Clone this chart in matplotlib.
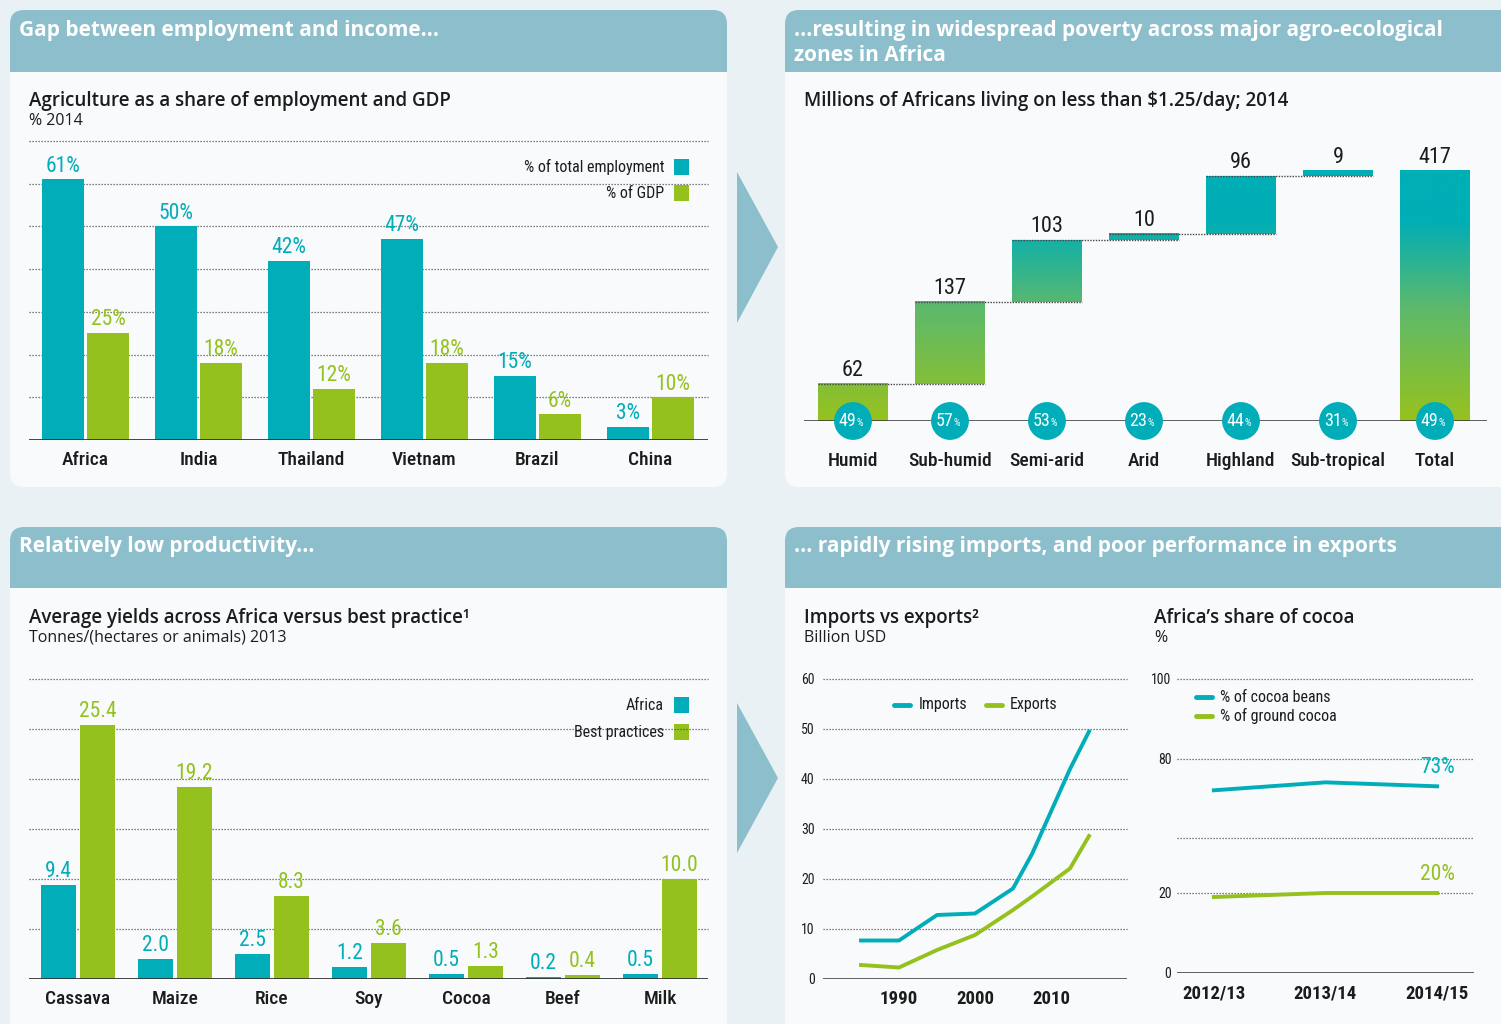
import numpy as np
import matplotlib.pyplot as plt
from matplotlib.patches import FancyBboxPatch, Rectangle, Polygon, Ellipse
from matplotlib.colors import LinearSegmentedColormap

W, H = 1501, 1024
TEAL = "#00adb9"
GREEN = "#95c11f"
HEAD = "#8cbfcb"
BG = "#eaf1f4"
PANEL = "#f8fafc"
INK = "#1c1c1c"
SANS = ["Open Sans", "DejaVu Sans"]
NARROW = ["Roboto Condensed", "Archivo Narrow", "DejaVu Sans"]

# agriculture share of employment / GDP, % 2014
countries = ["Africa", "India", "Thailand", "Vietnam", "Brazil", "China"]
employment = [61, 50, 42, 47, 15, 3]
gdp = [25, 18, 12, 18, 6, 10]

# poverty by agro-ecological zone, millions, 2014
zones = ["Humid", "Sub-humid", "Semi-arid", "Arid", "Highland", "Sub-tropical", "Total"]
poor = [62, 137, 103, 10, 96, 9, 417]
poor_rate = [49, 57, 53, 23, 44, 31, 49]

# yields, tonnes/(hectares or animals) 2013
crops = ["Cassava", "Maize", "Rice", "Soy", "Cocoa", "Beef", "Milk"]
yield_africa = [9.4, 2.0, 2.5, 1.2, 0.5, 0.2, 0.5]
yield_best = [25.4, 19.2, 8.3, 3.6, 1.3, 0.4, 10.0]

# imports vs exports, billion USD
trade_years = [1985, 1990, 1995, 2000, 2005, 2007.5, 2012.5, 2015]
imports = [7.7, 7.7, 12.8, 13.1, 18.1, 25.0, 42.0, 49.5]
exports = [2.8, 2.3, 5.8, 8.8, 13.8, 16.5, 22.1, 28.6]

# Africa's share of cocoa, %
seasons = ["2012/13", "2013/14", "2014/15"]
cocoa_beans = [72, 74, 73]
ground_cocoa = [19, 20, 20]

fig = plt.figure(figsize=(W / 100, H / 100), dpi=100, facecolor=BG)
bg = fig.add_axes([0, 0, 1, 1])
bg.set_xlim(0, W)
bg.set_ylim(H, 0)
bg.axis("off")


def px_axes(x0, y0, x1, y1):
    ax = fig.add_axes([x0 / W, 1 - y1 / H, (x1 - x0) / W, (y1 - y0) / H])
    ax.set_facecolor("none")
    for s in ax.spines.values():
        s.set_visible(False)
    return ax


def panel(x0, y0, x1, y1, hy):
    bg.add_patch(FancyBboxPatch((x0, y0), x1 - x0, y1 - y0,
                                boxstyle="round,pad=0,rounding_size=14", fc=PANEL, ec="none"))
    bg.add_patch(FancyBboxPatch((x0, y0), x1 - x0, hy - y0,
                                boxstyle="round,pad=0,rounding_size=14", fc=HEAD, ec="none"))
    bg.add_patch(Rectangle((x0, y0 + 20), x1 - x0, hy - y0 - 20, fc=HEAD, ec="none"))


def grid(ax, levels):
    for lv in levels:
        ax.axhline(lv, color="#555555", lw=0.9, ls=(0, (1, 1.4)), zorder=1, clip_on=False)


def narrow_ticks(ax, axis="x", weight="medium"):
    labels = ax.get_xticklabels() if axis == "x" else ax.get_yticklabels()
    for t in labels:
        t.set_family(NARROW)
        t.set_fontweight(weight)


panel(10, 10, 727, 487, 72)
panel(785, 10, 1530, 487, 72)
panel(10, 527, 727, 1060, 588)
panel(785, 527, 1530, 1060, 588)
bg.add_patch(Polygon([(737, 172), (778, 247), (737, 323)], fc=HEAD, ec="none"))
bg.add_patch(Polygon([(737, 703), (778, 778), (737, 853)], fc=HEAD, ec="none"))

hdr = dict(color="white", fontsize=15, fontweight="bold", family=SANS, va="baseline")
bg.text(19, 36, "Gap between employment and income...", **hdr)
bg.text(794, 36, "...resulting in widespread poverty across major agro-ecological", **hdr)
bg.text(794, 61, "zones in Africa", **hdr)
bg.text(19, 552, "Relatively low productivity...", **hdr)
bg.text(794, 552, "... rapidly rising imports, and poor performance in exports", **hdr)

ttl = dict(color=INK, fontsize=13.5, fontweight="semibold", family=SANS, va="baseline")
sub = dict(color=INK, fontsize=11.5, family=SANS, va="baseline")
bg.text(29, 106, "Agriculture as a share of employment and GDP", **ttl)
bg.text(29, 125, "% 2014", **sub)
bg.text(804, 106, "Millions of Africans living on less than $1.25/day; 2014", **ttl)
bg.text(29, 623, "Average yields across Africa versus best practice\u00b9", **ttl)
bg.text(29, 642, "Tonnes/(hectares or animals) 2013", **sub)
bg.text(804, 623, "Imports vs exports\u00b2", **ttl)
bg.text(804, 642, "Billion USD", **sub)
bg.text(1154, 623, "Africa\u2019s share of cocoa", **ttl)
bg.text(1154, 642, "%", **sub)

# legends
leg = dict(color=INK, fontsize=11.5, family=NARROW, va="center", ha="right")
bg.text(664, 167, "% of total employment", **leg)
bg.add_patch(Rectangle((674, 159), 15, 16, fc=TEAL, ec="none"))
bg.text(664, 193, "% of GDP", **leg)
bg.add_patch(Rectangle((674, 185), 15, 16, fc=GREEN, ec="none"))
bg.text(664, 705, "Africa", **leg)
bg.add_patch(Rectangle((674, 697), 15, 16, fc=TEAL, ec="none"))
bg.text(664, 732, "Best practices", **leg)
bg.add_patch(Rectangle((674, 724), 15, 16, fc=GREEN, ec="none"))

leg2 = dict(color=INK, fontsize=11.5, family=NARROW, va="center", ha="left")
bg.plot([894, 910], [705, 705], color=TEAL, lw=3.5, solid_capstyle="round")
bg.text(919, 705, "Imports", **leg2)
bg.plot([986, 1002], [705, 705], color=GREEN, lw=3.5, solid_capstyle="round")
bg.text(1010, 705, "Exports", **leg2)
bg.plot([1196, 1212], [697, 697], color=TEAL, lw=3.5, solid_capstyle="round")
bg.text(1220, 697, "% of cocoa beans", **leg2)
bg.plot([1196, 1212], [716, 716], color=GREEN, lw=3.5, solid_capstyle="round")
bg.text(1220, 716, "% of ground cocoa", **leg2)

# ---- chart 1: employment vs GDP
ax1 = px_axes(29, 141, 708, 440)
x1 = np.arange(len(countries))
ax1.bar(x1 - 0.2, employment, 0.37, color=TEAL, zorder=3)
ax1.bar(x1 + 0.2, gdp, 0.37, color=GREEN, zorder=3)
for xi, e, g in zip(x1, employment, gdp):
    ax1.annotate(f"{e}%", (xi - 0.2, e), xytext=(0, 2), textcoords="offset points",
                 ha="center", va="bottom", color=TEAL, fontsize=15.5, family=NARROW)
    ax1.annotate(f"{g}%", (xi + 0.2, g), xytext=(0, 2), textcoords="offset points",
                 ha="center", va="bottom", color=GREEN, fontsize=15.5, family=NARROW)
grid(ax1, range(10, 71, 10))
ax1.axhline(0, color="#333333", lw=2, zorder=4)
ax1.set_xlim(-0.5, 5.51)
ax1.set_ylim(0, 70)
ax1.set_yticks([])
ax1.set_xticks(x1, countries)
ax1.tick_params(axis="x", length=0, pad=8, labelsize=14, labelcolor=INK)
narrow_ticks(ax1)

# ---- chart 2: poverty waterfall
ax2 = px_axes(804, 140, 1487, 421)
cmap = LinearSegmentedColormap.from_list("gt", [(0, "#97c21e"), (0.45, "#5db96c"),
                                                (0.8, "#00aeb6"), (1, "#00aeb6")])
steps = np.array(poor[:-1])
tops = list(np.cumsum(steps)) + [poor[-1]]
bottoms = list(np.cumsum(steps) - steps) + [0]
x2 = np.arange(len(zones))
for i in x2:
    b, t = bottoms[i], tops[i]
    grad = np.linspace(b, t, 200).reshape(-1, 1)
    ax2.imshow(grad, extent=(i - 0.36, i + 0.36, b, t), origin="lower", cmap=cmap,
               vmin=0, vmax=poor[-1], aspect="auto", zorder=2)
    ax2.annotate(str(poor[i]), (i, t), xytext=(0, 2), textcoords="offset points",
                 ha="center", va="bottom", color=INK, fontsize=16, family=NARROW)
for i in range(len(zones) - 2):
    ax2.hlines(tops[i], i - 0.36, i + 1.36, color="#444444", lw=1, ls=(0, (1, 1)), zorder=3)
ax2.axhline(0, color="#333333", lw=1.8, zorder=4)
for i, r in zip(x2, poor_rate):
    ax2.add_patch(Ellipse((i, 0), 0.39, 63, fc=TEAL, ec="none", zorder=5, clip_on=False))
    ax2.annotate(str(r), (i, 0), xytext=(2.5, 0), textcoords="offset points", ha="right",
                 va="center", color="white", fontsize=13, family=NARROW, zorder=6)
    ax2.annotate("%", (i, 0), xytext=(2.5, -1.5), textcoords="offset points", ha="left",
                 va="center", color="white", fontsize=7.5, family=NARROW, zorder=6)
ax2.set_xlim(-0.505, 6.536)
ax2.set_ylim(0, 468)
ax2.set_yticks([])
ax2.set_xticks(x2, zones)
ax2.tick_params(axis="x", length=0, pad=22, labelsize=14, labelcolor=INK)
narrow_ticks(ax2)

# ---- chart 3: yields
ax3 = px_axes(29, 679, 708, 979)
x3 = np.arange(len(crops))
ax3.bar(x3 - 0.2, yield_africa, 0.36, color=TEAL, zorder=3)
ax3.bar(x3 + 0.2, yield_best, 0.36, color=GREEN, zorder=3)
for xi, a, b in zip(x3, yield_africa, yield_best):
    ax3.annotate(f"{a:.1f}", (xi - 0.2, a), xytext=(0, 2), textcoords="offset points",
                 ha="center", va="bottom", color=TEAL, fontsize=15.5, family=NARROW, zorder=5)
    ax3.annotate(f"{b:.1f}", (xi + 0.2, b), xytext=(0, 2), textcoords="offset points",
                 ha="center", va="bottom", color=GREEN, fontsize=15.5, family=NARROW, zorder=5)
grid(ax3, range(5, 31, 5))
ax3.axhline(0, color="#333333", lw=2, zorder=4)
ax3.set_xlim(-0.505, 6.495)
ax3.set_ylim(0, 30)
ax3.set_yticks([])
ax3.set_xticks(x3, crops)
ax3.tick_params(axis="x", length=0, pad=8, labelsize=14, labelcolor=INK)
narrow_ticks(ax3)

# ---- chart 4: imports vs exports
ax4 = px_axes(823, 679, 1127, 979)
ax4.plot(trade_years, imports, color=TEAL, lw=2.8, solid_joinstyle="round", zorder=3)
ax4.plot(trade_years, exports, color=GREEN, lw=2.8, solid_joinstyle="round", zorder=3)
grid(ax4, range(10, 61, 10))
ax4.axhline(0, color="#333333", lw=1.8, zorder=4)
ax4.set_xlim(1980, 2020)
ax4.set_ylim(0, 60)
ax4.set_yticks(range(0, 61, 10))
ax4.set_xticks([1990, 2000, 2010])
ax4.tick_params(axis="y", length=0, pad=6, labelsize=10, labelcolor=INK)
ax4.tick_params(axis="x", length=0, pad=8, labelsize=13.5, labelcolor=INK)
narrow_ticks(ax4, "y", "normal")
narrow_ticks(ax4, "x", "bold")

# ---- chart 5: cocoa share (broken axis between 20 and 60)
ax5 = px_axes(1177, 679, 1474, 973)
cut_v = [0, 20, 60, 100]
cut_p = [0, 80, 135, 294]
ax5.set_yscale("function", functions=(lambda v: np.interp(v, cut_v, cut_p),
                                       lambda p: np.interp(p, cut_p, cut_v)))
x5 = np.arange(len(seasons))
ax5.plot(x5, cocoa_beans, color=TEAL, lw=2.8, zorder=3)
ax5.plot(x5, ground_cocoa, color=GREEN, lw=2.8, zorder=3)
ax5.annotate(f"{cocoa_beans[-1]}%", (x5[-1], cocoa_beans[-1]), xytext=(0, 6),
             textcoords="offset points", ha="center", va="bottom", color=TEAL,
             fontsize=15.5, family=NARROW)
ax5.annotate(f"{ground_cocoa[-1]}%", (x5[-1], ground_cocoa[-1]), xytext=(0, 6),
             textcoords="offset points", ha="center", va="bottom", color=GREEN,
             fontsize=15.5, family=NARROW)
grid(ax5, [20, 60, 80, 100])
ax5.axhline(0, color="#333333", lw=1.8, zorder=4)
ax5.set_xlim(-0.33, 2.33)
ax5.set_ylim(0, 100)
ax5.set_yticks([0, 20, 80, 100])
ax5.set_yticks([], minor=True)
ax5.set_xticks(x5, seasons)
ax5.tick_params(axis="y", length=0, pad=4, labelsize=10, labelcolor=INK)
ax5.tick_params(axis="x", length=0, pad=8, labelsize=13.5, labelcolor=INK)
narrow_ticks(ax5, "y", "normal")
narrow_ticks(ax5, "x", "bold")

fig.savefig("out.png", dpi=100, facecolor=BG)
